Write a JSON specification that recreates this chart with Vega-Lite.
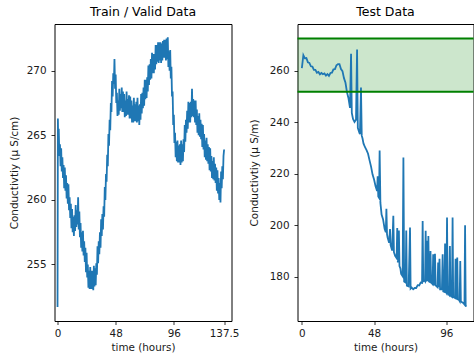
{
  "$schema": "https://vega.github.io/schema/vega-lite/v6.json",
  "padding": {"left": 8.5, "top": 5, "right": 0, "bottom": 2},
  "autosize": {"type": "pad"},
  "spacing": 66,
  "bounds": "flush",
  "config": {
    "font": "DejaVu Sans",
    "background": "white",
    "view": {"stroke": "#000000", "strokeWidth": 1},
    "axis": {
      "grid": false, "domain": false, "tickColor": "#000000", "tickSize": 3.5, "tickWidth": 0.8,
      "labelFontSize": 10.4, "labelColor": "#1a1a1a", "labelPadding": 3.5,
      "titleFontSize": 10.4, "titleFontWeight": "normal", "titleColor": "#1a1a1a"
    },
    "axisY": {"labelPadding": 5},
    "title": {"fontSize": 12.5, "fontWeight": "normal", "color": "#000000", "offset": 6}
  },
  "datasets": {
    "train": [
      {"t": 0, "v": 251.7}, {"t": 0.3, "v": 266.3}, {"t": 0.6, "v": 264.2},
      {"t": 1, "v": 265.5}, {"t": 1.5, "v": 263.4}, {"t": 2, "v": 264.3}, {"t": 2.5, "v": 262.6}, {"t": 3, "v": 264.0}, {"t": 3.5, "v": 262.2}, {"t": 4, "v": 263.3}, {"t": 4.5, "v": 261.7}, {"t": 5, "v": 262.7}, {"t": 5.5, "v": 260.9},
      {"t": 6, "v": 262.5}, {"t": 6.5, "v": 260.7}, {"t": 7, "v": 261.9}, {"t": 7.5, "v": 260.1}, {"t": 8, "v": 261.3}, {"t": 8.5, "v": 259.7}, {"t": 9, "v": 261.2}, {"t": 9.5, "v": 259.2}, {"t": 10, "v": 260.2}, {"t": 10.5, "v": 258.6},
      {"t": 11, "v": 259.7}, {"t": 11.5, "v": 257.8}, {"t": 12, "v": 259.3}, {"t": 12.5, "v": 257.5}, {"t": 13, "v": 258.7}, {"t": 13.5, "v": 257.2}, {"t": 14, "v": 258.8}, {"t": 14.5, "v": 257.6}, {"t": 15, "v": 259.6}, {"t": 15.5, "v": 257.9},
      {"t": 16, "v": 259.2}, {"t": 16.5, "v": 258.1}, {"t": 17, "v": 260.2}, {"t": 17.5, "v": 257.7}, {"t": 18, "v": 259.1}, {"t": 18.5, "v": 257.1}, {"t": 19, "v": 258.2}, {"t": 19.5, "v": 256.3}, {"t": 20, "v": 257.5}, {"t": 20.5, "v": 256.0},
      {"t": 21, "v": 257.6}, {"t": 21.5, "v": 255.7}, {"t": 22, "v": 256.8}, {"t": 22.5, "v": 255.2}, {"t": 23, "v": 256.3}, {"t": 23.5, "v": 254.4}, {"t": 24, "v": 255.9}, {"t": 24.5, "v": 254.0}, {"t": 25, "v": 255.0}, {"t": 25.5, "v": 253.2},
      {"t": 26, "v": 254.5}, {"t": 26.5, "v": 253.1}, {"t": 27, "v": 254.8}, {"t": 27.5, "v": 253.1}, {"t": 28, "v": 254.5}, {"t": 28.5, "v": 253.1}, {"t": 29, "v": 254.5}, {"t": 29.5, "v": 253.0}, {"t": 30, "v": 254.9}, {"t": 30.5, "v": 253.3},
      {"t": 31, "v": 254.7}, {"t": 31.5, "v": 253.4}, {"t": 32, "v": 255.1}, {"t": 32.5, "v": 254.2}, {"t": 33, "v": 256.4}, {"t": 33.5, "v": 255.1}, {"t": 34, "v": 256.8}, {"t": 34.5, "v": 255.8}, {"t": 35, "v": 257.5}, {"t": 35.5, "v": 256.3},
      {"t": 36, "v": 258.5}, {"t": 36.5, "v": 257.2}, {"t": 37, "v": 258.9}, {"t": 37.5, "v": 257.7}, {"t": 38, "v": 259.5}, {"t": 38.5, "v": 258.7}, {"t": 39, "v": 261.0}, {"t": 39.5, "v": 260.0}, {"t": 40, "v": 262.0}, {"t": 40.5, "v": 261.4},
      {"t": 41, "v": 263.5}, {"t": 41.5, "v": 262.6}, {"t": 42, "v": 265.1}, {"t": 42.5, "v": 264.2}, {"t": 43, "v": 266.2}, {"t": 43.5, "v": 265.4}, {"t": 44, "v": 267.5}, {"t": 44.5, "v": 266.8}, {"t": 45, "v": 269.2}, {"t": 45.5, "v": 268.0},
      {"t": 46, "v": 269.8}, {"t": 46.5, "v": 269.0}, {"t": 47, "v": 270.9}, {"t": 47.5, "v": 268.6}, {"t": 48, "v": 269.7}, {"t": 48.5, "v": 267.5}, {"t": 49, "v": 268.3}, {"t": 49.5, "v": 266.5}, {"t": 50, "v": 267.7}, {"t": 50.5, "v": 266.6},
      {"t": 51, "v": 268.6}, {"t": 51.5, "v": 266.9}, {"t": 52, "v": 268.2}, {"t": 52.5, "v": 267.1}, {"t": 53, "v": 268.7}, {"t": 53.5, "v": 266.8}, {"t": 54, "v": 268.4}, {"t": 54.5, "v": 266.8}, {"t": 55, "v": 268.2}, {"t": 55.5, "v": 266.4},
      {"t": 56, "v": 267.7}, {"t": 56.5, "v": 266.5}, {"t": 57, "v": 268.4}, {"t": 57.5, "v": 266.6}, {"t": 58, "v": 267.8}, {"t": 58.5, "v": 266.6}, {"t": 59, "v": 268.1}, {"t": 59.5, "v": 266.3}, {"t": 60, "v": 268.0}, {"t": 60.5, "v": 266.3},
      {"t": 61, "v": 267.7}, {"t": 61.5, "v": 266.0}, {"t": 62, "v": 267.3}, {"t": 62.5, "v": 266.0}, {"t": 63, "v": 267.9}, {"t": 63.5, "v": 266.1}, {"t": 64, "v": 267.4}, {"t": 64.5, "v": 266.1}, {"t": 65, "v": 267.6}, {"t": 65.5, "v": 266.0},
      {"t": 66, "v": 267.9}, {"t": 66.5, "v": 266.1}, {"t": 67, "v": 267.3}, {"t": 67.5, "v": 265.8}, {"t": 68, "v": 267.4}, {"t": 68.5, "v": 266.2}, {"t": 69, "v": 268.2}, {"t": 69.5, "v": 266.7}, {"t": 70, "v": 268.3}, {"t": 70.5, "v": 267.1},
      {"t": 71, "v": 268.7}, {"t": 71.5, "v": 267.3}, {"t": 72, "v": 269.3}, {"t": 72.5, "v": 267.8}, {"t": 73, "v": 269.3}, {"t": 73.5, "v": 267.9}, {"t": 74, "v": 269.5}, {"t": 74.5, "v": 268.4}, {"t": 75, "v": 270.4}, {"t": 75.5, "v": 268.9},
      {"t": 76, "v": 270.5}, {"t": 76.5, "v": 269.3}, {"t": 77, "v": 270.9}, {"t": 77.5, "v": 269.4}, {"t": 78, "v": 271.4}, {"t": 78.5, "v": 269.8}, {"t": 79, "v": 271.3}, {"t": 79.5, "v": 269.8}, {"t": 80, "v": 271.3}, {"t": 80.5, "v": 270.1},
      {"t": 81, "v": 272.0}, {"t": 81.5, "v": 270.5}, {"t": 82, "v": 272.0}, {"t": 82.5, "v": 270.7}, {"t": 83, "v": 272.2}, {"t": 83.5, "v": 270.6}, {"t": 84, "v": 272.2}, {"t": 84.5, "v": 270.8}, {"t": 85, "v": 272.2}, {"t": 85.5, "v": 270.6},
      {"t": 86, "v": 272.1}, {"t": 86.5, "v": 270.8}, {"t": 87, "v": 272.3}, {"t": 87.5, "v": 271.0}, {"t": 88, "v": 272.4}, {"t": 88.5, "v": 271.0}, {"t": 89, "v": 272.4}, {"t": 89.5, "v": 270.8}, {"t": 90, "v": 272.5}, {"t": 90.5, "v": 270.9},
      {"t": 91, "v": 272.6}, {"t": 91.5, "v": 270.3}, {"t": 92, "v": 271.5}, {"t": 92.5, "v": 270.0}, {"t": 93, "v": 271.6}, {"t": 93.5, "v": 269.4}, {"t": 94, "v": 270.3}, {"t": 94.5, "v": 268.0}, {"t": 95, "v": 268.4}, {"t": 95.5, "v": 265.8},
      {"t": 96, "v": 266.6}, {"t": 96.5, "v": 264.4}, {"t": 97, "v": 265.2}, {"t": 97.5, "v": 263.3}, {"t": 98, "v": 264.5}, {"t": 98.5, "v": 263.0}, {"t": 99, "v": 264.6}, {"t": 99.5, "v": 262.9}, {"t": 100, "v": 264.2}, {"t": 100.5, "v": 262.9},
      {"t": 101, "v": 264.3}, {"t": 101.5, "v": 262.7}, {"t": 102, "v": 264.6}, {"t": 102.5, "v": 262.9}, {"t": 103, "v": 264.3}, {"t": 103.5, "v": 263.0}, {"t": 104, "v": 264.7}, {"t": 104.5, "v": 263.7}, {"t": 105, "v": 265.8}, {"t": 105.5, "v": 264.5},
      {"t": 106, "v": 266.2}, {"t": 106.5, "v": 265.2}, {"t": 107, "v": 266.9}, {"t": 107.5, "v": 265.5}, {"t": 108, "v": 267.6}, {"t": 108.5, "v": 266.0}, {"t": 109, "v": 267.5}, {"t": 109.5, "v": 266.0}, {"t": 110, "v": 267.6}, {"t": 110.5, "v": 266.4},
      {"t": 111, "v": 268.6}, {"t": 111.5, "v": 266.5}, {"t": 112, "v": 267.8}, {"t": 112.5, "v": 266.4}, {"t": 113, "v": 267.7}, {"t": 113.5, "v": 266.0}, {"t": 114, "v": 267.7}, {"t": 114.5, "v": 265.8}, {"t": 115, "v": 267.0}, {"t": 115.5, "v": 265.2},
      {"t": 116, "v": 266.5}, {"t": 116.5, "v": 265.0}, {"t": 117, "v": 266.7}, {"t": 117.5, "v": 264.9}, {"t": 118, "v": 266.2}, {"t": 118.5, "v": 264.7}, {"t": 119, "v": 265.9}, {"t": 119.5, "v": 264.1}, {"t": 120, "v": 265.8}, {"t": 120.5, "v": 263.9},
      {"t": 121, "v": 265.1}, {"t": 121.5, "v": 263.3}, {"t": 122, "v": 264.6}, {"t": 122.5, "v": 263.1}, {"t": 123, "v": 264.8}, {"t": 123.5, "v": 263.0}, {"t": 124, "v": 264.3}, {"t": 124.5, "v": 262.8}, {"t": 125, "v": 264.1}, {"t": 125.5, "v": 262.3},
      {"t": 126, "v": 264.0}, {"t": 126.5, "v": 262.2}, {"t": 127, "v": 263.4}, {"t": 127.5, "v": 261.7}, {"t": 128, "v": 263.0}, {"t": 128.5, "v": 261.6}, {"t": 129, "v": 263.3}, {"t": 129.5, "v": 261.5}, {"t": 130, "v": 262.8}, {"t": 130.5, "v": 261.3},
      {"t": 131, "v": 262.5}, {"t": 131.5, "v": 260.7}, {"t": 132, "v": 262.3}, {"t": 132.5, "v": 260.5}, {"t": 133, "v": 261.7}, {"t": 133.5, "v": 260.0}, {"t": 134, "v": 261.3}, {"t": 134.5, "v": 259.8}, {"t": 135, "v": 262.2}, {"t": 135.5, "v": 260.9},
      {"t": 136, "v": 262.6}, {"t": 136.5, "v": 261.6}, {"t": 137, "v": 263.4}, {"t": 137.5, "v": 263.9}
    ],
    "test": [
      {"t": 0, "v": 261.0}, {"t": 0.5, "v": 263.5}, {"t": 1, "v": 266.0}, {"t": 2, "v": 264.8}, {"t": 3, "v": 264.9}, {"t": 4, "v": 263.2}, {"t": 5, "v": 263.0}, {"t": 6, "v": 261.7}, {"t": 7, "v": 261.6}, {"t": 8, "v": 260.3},
      {"t": 9, "v": 260.3}, {"t": 10, "v": 259.2}, {"t": 11, "v": 259.5}, {"t": 12, "v": 258.6}, {"t": 13, "v": 259.1}, {"t": 14, "v": 258.6}, {"t": 15, "v": 258.9}, {"t": 16, "v": 258.1}, {"t": 17, "v": 258.7}, {"t": 18, "v": 258.0},
      {"t": 19, "v": 259.1}, {"t": 20, "v": 259.2}, {"t": 21, "v": 260.5}, {"t": 22, "v": 260.6}, {"t": 23, "v": 262.1}, {"t": 24, "v": 262.5}, {"t": 25, "v": 262.5}, {"t": 26, "v": 260.6}, {"t": 27, "v": 259.8}, {"t": 28, "v": 257.1},
      {"t": 29, "v": 255.3}, {"t": 30, "v": 251.6}, {"t": 31, "v": 249.3}, {"t": 32, "v": 245.6}, {"t": 32.7, "v": 266.6}, {"t": 33.2, "v": 243.6}, {"t": 34, "v": 241.3}, {"t": 35, "v": 240.1}, {"t": 36, "v": 241.0}, {"t": 36.7, "v": 268.2},
      {"t": 37.2, "v": 237.8}, {"t": 38, "v": 236.3}, {"t": 38.6, "v": 235.4}, {"t": 39.3, "v": 253.5}, {"t": 39.8, "v": 234.8}, {"t": 40.3, "v": 233.8}, {"t": 41, "v": 231.7}, {"t": 42, "v": 230.3}, {"t": 43, "v": 229.2}, {"t": 44, "v": 227.8},
      {"t": 45, "v": 225.2}, {"t": 46, "v": 222.8}, {"t": 47, "v": 219.7}, {"t": 48, "v": 217.8}, {"t": 49, "v": 215.2}, {"t": 50, "v": 213.3}, {"t": 50.4, "v": 219.0}, {"t": 50.8, "v": 211.2}, {"t": 51.3, "v": 210.7}, {"t": 51.7, "v": 229.0},
      {"t": 52.2, "v": 208.8}, {"t": 53, "v": 204.2}, {"t": 54, "v": 202.3}, {"t": 55, "v": 198.7}, {"t": 55.8, "v": 197.3}, {"t": 56.2, "v": 206.4}, {"t": 56.6, "v": 196.6}, {"t": 57, "v": 195.3}, {"t": 58, "v": 193.2}, {"t": 58.6, "v": 198.6},
      {"t": 59, "v": 192.3}, {"t": 60, "v": 190.2}, {"t": 60.8, "v": 203.7}, {"t": 61.2, "v": 189.6}, {"t": 62, "v": 188.2}, {"t": 63, "v": 187.3}, {"t": 63.4, "v": 199.0}, {"t": 63.8, "v": 185.6}, {"t": 64.5, "v": 198.0}, {"t": 64.9, "v": 184.2},
      {"t": 65.5, "v": 183.3}, {"t": 66, "v": 181.2}, {"t": 67, "v": 180.3}, {"t": 67.5, "v": 226.3}, {"t": 68, "v": 178.2}, {"t": 69, "v": 177.8}, {"t": 69.4, "v": 198.0}, {"t": 69.8, "v": 176.6}, {"t": 71, "v": 176.3}, {"t": 71.9, "v": 199.2},
      {"t": 72.3, "v": 175.5}, {"t": 73, "v": 175.9}, {"t": 74, "v": 175.2}, {"t": 75, "v": 175.7}, {"t": 76, "v": 175.7}, {"t": 77, "v": 176.8}, {"t": 78, "v": 176.7}, {"t": 79, "v": 177.8}, {"t": 79.9, "v": 177.7}, {"t": 80.3, "v": 201.7},
      {"t": 80.7, "v": 178.3}, {"t": 81.5, "v": 178.6}, {"t": 81.9, "v": 178.3}, {"t": 82.3, "v": 197.9}, {"t": 82.7, "v": 178.8}, {"t": 83.1, "v": 178.3}, {"t": 83.5, "v": 194.0}, {"t": 83.8, "v": 178.4}, {"t": 84.1, "v": 195.9}, {"t": 84.5, "v": 178.2},
      {"t": 85.1, "v": 178.0}, {"t": 85.5, "v": 190.0}, {"t": 85.9, "v": 177.9}, {"t": 86.9, "v": 177.2}, {"t": 87.3, "v": 188.8}, {"t": 87.7, "v": 177.3}, {"t": 88.1, "v": 176.8}, {"t": 88.5, "v": 189.0}, {"t": 88.9, "v": 176.7}, {"t": 90.2, "v": 176.0},
      {"t": 90.6, "v": 185.6}, {"t": 91.0, "v": 176.0}, {"t": 91.5, "v": 187.0}, {"t": 91.9, "v": 175.2}, {"t": 93.1, "v": 175.2}, {"t": 93.6, "v": 188.8}, {"t": 94, "v": 174.4}, {"t": 94.8, "v": 174.2}, {"t": 95.2, "v": 193.0}, {"t": 95.6, "v": 174.3},
      {"t": 96.1, "v": 173.8}, {"t": 96.5, "v": 203.0}, {"t": 96.9, "v": 173.6}, {"t": 98.0, "v": 172.9}, {"t": 98.4, "v": 192.0}, {"t": 98.8, "v": 172.8}, {"t": 99.8, "v": 172.3}, {"t": 100.2, "v": 203.0}, {"t": 100.6, "v": 172.2}, {"t": 101.5, "v": 171.9},
      {"t": 101.8, "v": 171.8}, {"t": 102.2, "v": 187.0}, {"t": 102.6, "v": 171.6}, {"t": 102.9, "v": 171.5}, {"t": 103.3, "v": 187.5}, {"t": 103.7, "v": 171.3}, {"t": 104.5, "v": 171.0}, {"t": 104.9, "v": 170.6}, {"t": 105.3, "v": 186.2}, {"t": 105.7, "v": 170.5},
      {"t": 106.5, "v": 170.2}, {"t": 107.3, "v": 169.9}, {"t": 108.1, "v": 169.3}, {"t": 108.5, "v": 200.0}, {"t": 108.9, "v": 169.0}, {"t": 109.3, "v": 168.5}
    ],
    "band": [{"lo": 251.8, "hi": 272.5}]
  },
  "hconcat": [
    {
      "width": 177,
      "height": 297,
      "title": "Train / Valid Data",
      "data": {"name": "train"},
      "mark": {"type": "line", "color": "#1f77b4", "strokeWidth": 1.8, "clip": true},
      "encoding": {
        "x": {"field": "t", "type": "quantitative", "scale": {"domain": [-2.5, 143.6], "nice": false, "zero": false},
              "axis": {"values": [0, 48, 96, 137.5], "labelExpr": "'' + datum.value", "title": "time (hours)", "titlePadding": 4}},
        "y": {"field": "v", "type": "quantitative", "scale": {"domain": [250.62, 273.62], "nice": false, "zero": false},
              "axis": {"values": [255, 260, 265, 270], "title": "Conductivtiy (μ S/cm)", "titlePadding": 7}}
      }
    },
    {
      "width": 176,
      "height": 297,
      "title": "Test Data",
      "layer": [
        {
          "data": {"name": "band"},
          "mark": {"type": "rect", "color": "#008000", "opacity": 0.2},
          "encoding": {
            "y": {"field": "lo", "type": "quantitative", "scale": {"domain": [162.9, 278.1], "nice": false, "zero": false}},
            "y2": {"field": "hi"}
          }
        },
        {
          "data": {"name": "test"},
          "mark": {"type": "line", "color": "#1f77b4", "strokeWidth": 1.8, "clip": true},
          "encoding": {
            "x": {"field": "t", "type": "quantitative", "scale": {"domain": [-2.9, 114.1], "nice": false, "zero": false},
                  "axis": {"values": [0, 48, 96], "title": "time (hours)", "titlePadding": 4}},
            "y": {"field": "v", "type": "quantitative",
                  "axis": {"values": [180, 200, 220, 240, 260], "title": "Conductivtiy (μ S/m)", "titlePadding": 10}}
          }
        },
        {
          "data": {"name": "band"},
          "mark": {"type": "rule", "color": "#008000", "strokeWidth": 2},
          "encoding": {"y": {"field": "lo", "type": "quantitative"}}
        },
        {
          "data": {"name": "band"},
          "mark": {"type": "rule", "color": "#008000", "strokeWidth": 2},
          "encoding": {"y": {"field": "hi", "type": "quantitative"}}
        }
      ]
    }
  ]
}
